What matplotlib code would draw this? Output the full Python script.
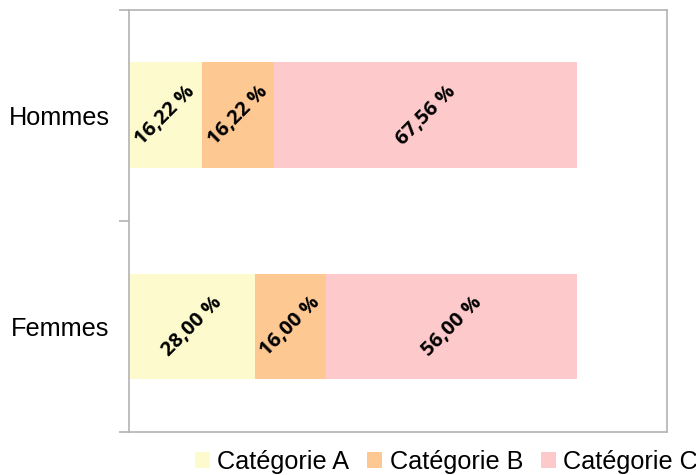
import matplotlib
matplotlib.use("Agg")
import matplotlib.pyplot as plt
from matplotlib.patches import Patch
import numpy as np

# Data
groups = ["Hommes", "Femmes"]
series_names = ["Catégorie A", "Catégorie B", "Catégorie C"]
cat_a = [16.22, 28.00]
cat_b = [16.22, 16.00]
cat_c = [67.56, 56.00]
colors = ["#fdfbcd", "#fec893", "#fdc9ca"]

plt.rcParams["font.family"] = ["Liberation Sans", "DejaVu Sans"]

fig = plt.figure(figsize=(6.96, 4.75), dpi=100)
ax = fig.add_axes([129 / 696, 1 - 432 / 475, (667 - 129) / 696, (432 - 9.5) / 475])

y = np.arange(len(groups))
left = np.zeros(len(groups))
for vals, col in zip([cat_a, cat_b, cat_c], colors):
    vals = np.array(vals)
    ax.barh(y, vals, left=left, height=0.5, color=col, edgecolor="none")
    for yi, l, v in zip(y, left, vals):
        ax.text(l + v / 2, yi, f"{v:.2f} %".replace(".", ","),
                rotation=45, rotation_mode="anchor", ha="center", va="center",
                fontsize=14.6, fontweight="bold", family=["Open Sans", "DejaVu Sans"],
                color="black")
    left += vals

ax.set_xlim(0, 120)
ax.set_ylim(1.5, -0.5)

# Axes styling
for side in ["left", "right", "top", "bottom"]:
    ax.spines[side].set_color("#b3b3b3")
    ax.spines[side].set_linewidth(1.2)

ax.set_xticks([])
ax.set_yticks(y)
ax.set_yticklabels(groups, fontsize=18.2)
ax.tick_params(axis="y", which="major", length=0, pad=14)
ax.set_yticks([-0.5, 0.5, 1.5], minor=True)
ax.tick_params(axis="y", which="minor", length=7.5, width=1.2, color="#b3b3b3")

handles = [Patch(facecolor=c, edgecolor="none") for c in colors]
fig.legend(handles, series_names, loc="center left",
           bbox_to_anchor=(195 / 696, 1 - 462 / 475), ncol=3, frameon=False,
           fontsize=18.2, handlelength=0.6, handleheight=0.6,
           handletextpad=0.28, columnspacing=0.71, borderpad=0, borderaxespad=0)

fig.savefig("out.png", dpi=100)
